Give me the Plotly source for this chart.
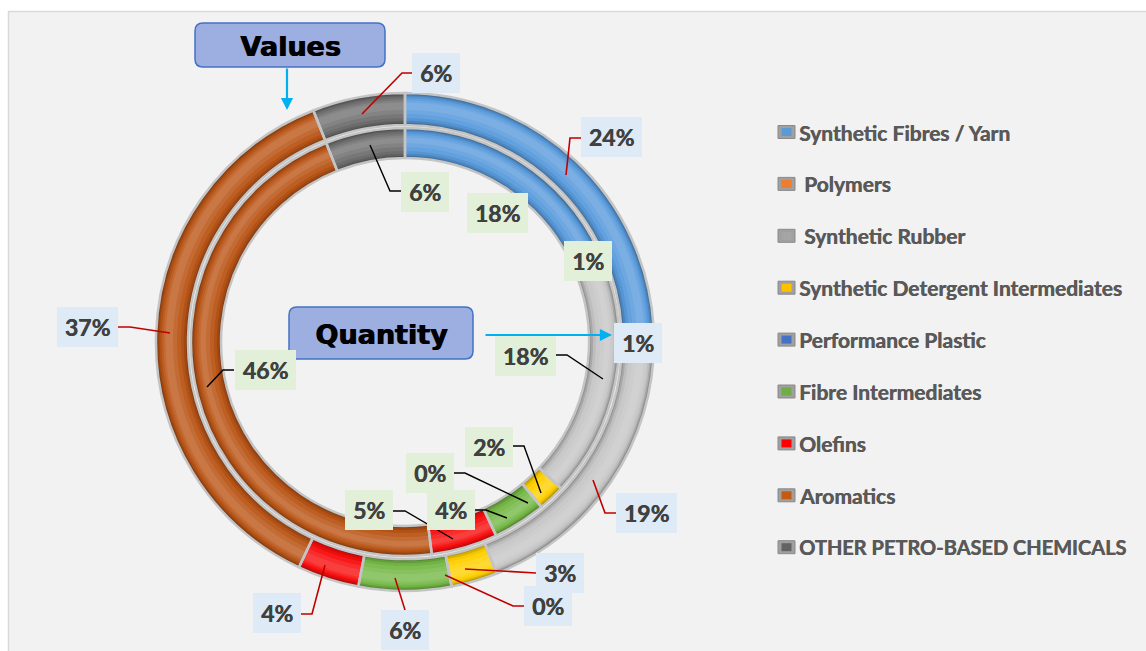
import plotly.graph_objects as go

W, H = 1146, 651

# ---- data -------------------------------------------------------------
categories = ["Synthetic Fibres / Yarn", "Polymers", "Synthetic Rubber",
              "Synthetic Detergent Intermediates", "Performance Plastic",
              "Fibre Intermediates", "Olefins", "Aromatics",
              "OTHER PETRO-BASED CHEMICALS"]
values_share = [24, 1, 19, 3, 0, 6, 4, 37, 6]      # outer ring (%)
quantity_share = [18, 1, 18, 2, 0, 4, 5, 46, 6]    # inner ring (%)

# ---- styling ----------------------------------------------------------
legend_colors = ["#5B9BD5", "#ED7D31", "#A5A5A5", "#FFC000", "#4472C4",
                 "#70AD47", "#FF0000", "#C55A11", "#636363"]
ring_colors = ["#5A9BDC", "#5A9BDC", "#C6C6C6", "#FFD000", "#4472C4",
               "#76B947", "#F80E0E", "#BA5517", "#707070"]

CX, CY = 405, 342          # ring centre (px)
OUTER = (217, 249)         # outer ring radii (px)
INNER = (184, 214)         # inner ring radii (px)

# label box centres (px) and leader-line paths, one per category
outer_label_pos = [(611, 137), (638, 343), (646, 513), (560, 573), (548, 606),
                   (405, 630), (277, 613), (87, 327), (436, 73)]
outer_leaders = [[(581, 138), (570, 138), (566, 175)],
                 None,
                 [(616, 513), (605, 513), (593, 480)],
                 [(536, 573), (465, 569)],
                 [(524, 606), (513, 606), (445, 575)],
                 [(405, 610), (395, 578)],
                 [(301, 614), (312, 614), (325, 565)],
                 [(118, 327), (130, 327), (170, 333)],
                 [(412, 73), (402, 73), (362, 114)]]
inner_label_pos = [(497, 213), (588, 261), (525, 356), (489, 447), (430, 473),
                   (451, 510), (369, 510), (265, 370), (425, 192)]
inner_leaders = [None, None,
                 [(556, 355), (567, 355), (603, 379)],
                 [(513, 446), (524, 446), (541, 493)],
                 [(454, 473), (465, 473), (528, 503)],
                 [(475, 510), (486, 510), (507, 518)],
                 [(393, 511), (405, 511), (453, 539)],
                 [(234, 370), (223, 370), (207, 387)],
                 [(402, 191), (390, 191), (370, 145)]]


def _rgb(h):
    h = h.lstrip("#")
    return [int(h[i:i + 2], 16) for i in (0, 2, 4)]


def adjust(h, f):
    """f < 0 darkens, f > 0 lightens towards white."""
    r, g, b = _rgb(h)
    if f < 0:
        k = 1 + f
        r, g, b = r * k, g * k, b * k
    else:
        r, g, b = r + (255 - r) * f, g + (255 - g) * f, b + (255 - b) * f
    return "rgb(%d,%d,%d)" % (round(r), round(g), round(b))


def ring_trace(vals, r_in, r_out, colors, line_color=None, line_width=0):
    return go.Pie(
        values=vals, labels=categories, sort=False, direction="clockwise",
        rotation=0, hole=r_in / r_out,
        domain=dict(x=[(CX - r_out) / W, (CX + r_out) / W],
                    y=[1 - (CY + r_out) / H, 1 - (CY - r_out) / H]),
        marker=dict(colors=colors,
                    line=dict(color=line_color or "rgba(0,0,0,0)",
                              width=line_width)),
        textinfo="none", hoverinfo="label+value", showlegend=False)


fig = go.Figure()

# bevelled look: nested bands, darker at the edges, lighter in the middle
bands = [(0, 0, -0.42), (1, 1, -0.28), (2.2, 2.2, -0.15), (3.6, 4.2, -0.04),
         (5.5, 7, 0.05), (7.5, 11, 0.13), (9.5, 15, 0.2)]
for vals, (a, b) in ((values_share, OUTER), (quantity_share, INNER)):
    for d_out, d_in, f in bands:
        fig.add_trace(ring_trace(vals, a + d_in, b - d_out,
                                 [adjust(c, f) for c in ring_colors]))
    fig.add_trace(ring_trace(vals, a, b, ["rgba(0,0,0,0)"] * len(vals),
                             line_color="#C4C4C4", line_width=2.5))

# invisible trace so the pixel-coordinate axes exist
fig.add_trace(go.Scatter(x=[0, W], y=[0, H], mode="markers",
                         marker=dict(opacity=0), hoverinfo="skip",
                         showlegend=False))

shapes = []
annotations = []

# white frame outside the chart area and its border
shapes.append(dict(type="rect", xref="x", yref="y", x0=0, y0=0, x1=W, y1=11,
                   fillcolor="white", line_width=0, layer="below"))
shapes.append(dict(type="rect", xref="x", yref="y", x0=0, y0=0, x1=8, y1=H,
                   fillcolor="white", line_width=0, layer="below"))
shapes.append(dict(type="path", xref="x", yref="y",
                   path="M 8.5 %d L 8.5 11.5 L %d 11.5" % (H, W),
                   line=dict(color="#D9D9D9", width=1.5), layer="below"))

HEAVY = "0.5px 0px 0px %s"


def label_box(x, y, text, bg, n_chars):
    w = 48 if n_chars <= 2 else 61
    annotations.append(dict(x=x, y=y, xref="x", yref="y", text="<b>%s</b>" % text,
                            showarrow=False, bgcolor=bg, width=w, height=40,
                            borderpad=0, borderwidth=0,
                            font=dict(family="Lato", size=23, color="#404040",
                                      shadow=HEAVY % "#404040"),
                            xanchor="center", yanchor="middle"))


def leader(pts, color, width):
    path = "M " + " L ".join("%g %g" % p for p in pts)
    shapes.append(dict(type="path", xref="x", yref="y", path=path,
                       line=dict(color=color, width=width), layer="above"))


for v, pos, ld in zip(values_share, outer_label_pos, outer_leaders):
    txt = "%d%%" % v
    if ld:
        leader(ld, "#C00000", 1.6)
    label_box(pos[0], pos[1], txt, "#DEEBF7", len(str(v)) + 1)

for v, pos, ld in zip(quantity_share, inner_label_pos, inner_leaders):
    txt = "%d%%" % v
    if ld:
        leader(ld, "#000000", 1.4)
    label_box(pos[0], pos[1], txt, "#E2F0D9", len(str(v)) + 1)


# callout boxes
def rounded(x0, y0, x1, y1, r):
    return ("M %g %g L %g %g Q %g %g %g %g L %g %g Q %g %g %g %g "
            "L %g %g Q %g %g %g %g L %g %g Q %g %g %g %g Z") % (
        x0 + r, y0, x1 - r, y0, x1, y0, x1, y0 + r,
        x1, y1 - r, x1, y1, x1 - r, y1,
        x0 + r, y1, x0, y1, x0, y1 - r,
        x0, y0 + r, x0, y0, x0 + r, y0)


for (x0, y0, x1, y1, text) in ((195, 23, 385, 67, "Values"),
                               (289, 307, 473, 359, "Quantity")):
    shapes.append(dict(type="path", xref="x", yref="y",
                       path=rounded(x0, y0, x1, y1, 8),
                       fillcolor="#9DAEE1", line=dict(color="#4472C4", width=1.5),
                       layer="above"))
    annotations.append(dict(x=(x0 + x1) / 2, y=(y0 + y1) / 2 + 1, xref="x", yref="y",
                            text="<b>%s</b>" % text, showarrow=False,
                            font=dict(family="DejaVu Sans", size=27, color="black",
                                      shadow="1px 0px 0px black"),
                            xanchor="center", yanchor="middle"))

# callout arrows
annotations.append(dict(x=287, y=110, ax=287, ay=67, xref="x", yref="y",
                        axref="x", ayref="y", text="", showarrow=True,
                        arrowhead=2, arrowsize=1.1, arrowwidth=2.2,
                        arrowcolor="#00B0F0"))
annotations.append(dict(x=612, y=335, ax=484, ay=335, xref="x", yref="y",
                        axref="x", ayref="y", text="", showarrow=True,
                        arrowhead=2, arrowsize=1.1, arrowwidth=2.2,
                        arrowcolor="#00B0F0"))

# legend
legend_y0, legend_dy = 132, 51.9
legend_indent = [0, 5, 5, 0, 0, 0, 0, 0, 0]
for i, (name, col) in enumerate(zip(categories, legend_colors)):
    y = legend_y0 + i * legend_dy
    shapes.append(dict(type="rect", xref="x", yref="y", x0=778, x1=795,
                       y0=y - 6.5, y1=y + 6.5, fillcolor="#A0A0A0",
                       line=dict(color="#8A8A8A", width=1), layer="above"))
    shapes.append(dict(type="rect", xref="x", yref="y", x0=781.5, x1=791.5,
                       y0=y - 4, y1=y + 4, fillcolor=col,
                       line_width=0, layer="above"))
    annotations.append(dict(x=797 + legend_indent[i], y=y, xref="x", yref="y",
                            text="<b>%s</b>" % name, showarrow=False,
                            xanchor="left", yanchor="middle",
                            font=dict(family="Lato", size=21 if i < 8 else 20,
                                      color="#595959",
                                      shadow=HEAVY % "#595959")))

fig.update_layout(
    width=W, height=H, margin=dict(l=0, r=0, t=0, b=0),
    paper_bgcolor="#F2F2F2", plot_bgcolor="rgba(0,0,0,0)",
    xaxis=dict(range=[0, W], visible=False, fixedrange=True),
    yaxis=dict(range=[H, 0], visible=False, fixedrange=True),
    shapes=shapes, annotations=annotations, showlegend=False,
)

fig.write_html("out.html")
